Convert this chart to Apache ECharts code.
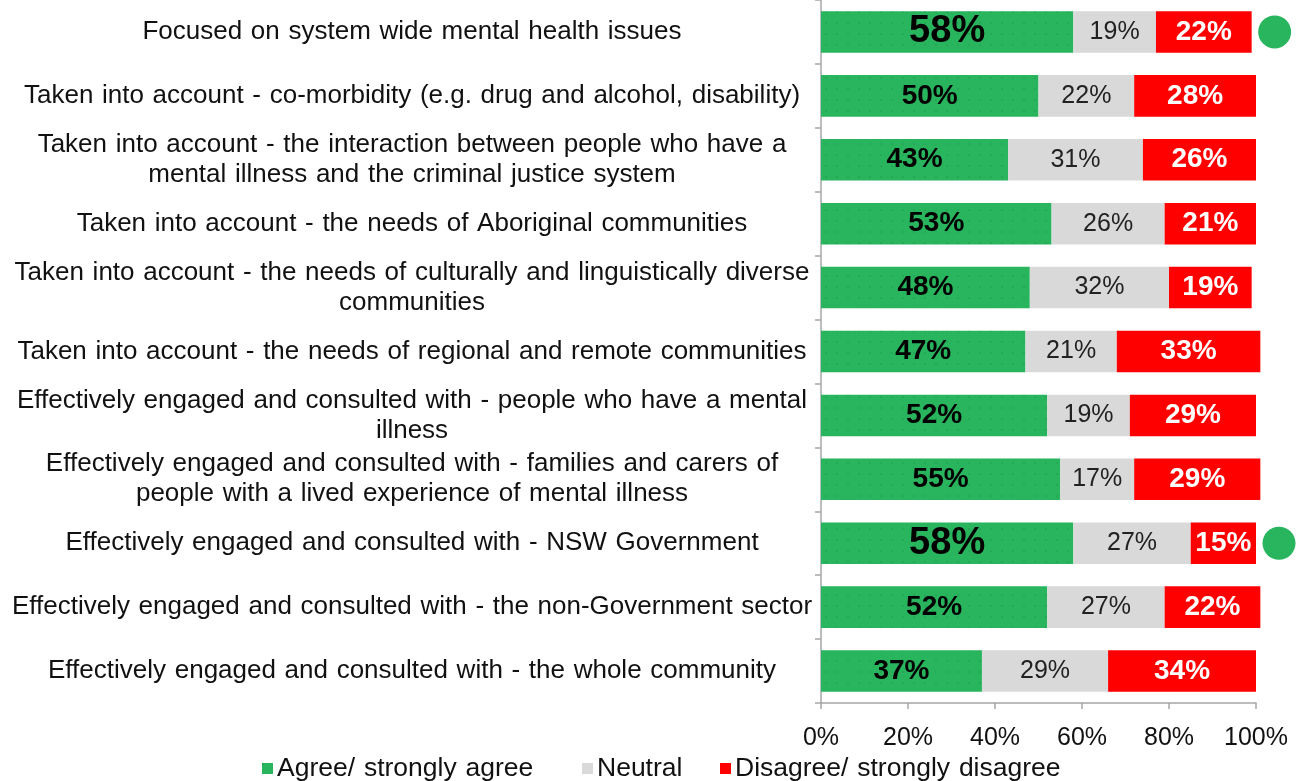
<!DOCTYPE html>
<html>
<head>
<meta charset="utf-8">
<script src="https://cdn.jsdelivr.net/npm/echarts@6/dist/echarts.min.js"></script>
<style>html,body{margin:0;padding:0;background:#fff}#c{width:1304px;height:781px}</style>
</head>
<body>
<div id="c"></div>
<script>
const categories = [
  "Focused on system wide mental health issues",
  "Taken into account - co-morbidity (e.g. drug and alcohol, disability)",
  "Taken into account - the interaction between people who have a\nmental illness and the criminal justice system",
  "Taken into account - the needs of Aboriginal communities",
  "Taken into account - the needs of culturally and linguistically diverse\ncommunities",
  "Taken into account - the needs of regional and remote communities",
  "Effectively engaged and consulted with - people who have a mental\nillness",
  "Effectively engaged and consulted with - families and carers of\npeople with a lived experience of mental illness",
  "Effectively engaged and consulted with - NSW Government",
  "Effectively engaged and consulted with - the non-Government sector",
  "Effectively engaged and consulted with - the whole community"
];
const seriesNames = ["Agree/ strongly agree", "Neutral", "Disagree/ strongly disagree"];
const agree = [58, 50, 43, 53, 48, 47, 52, 55, 58, 52, 37];
const neutral = [19, 22, 31, 26, 32, 21, 19, 17, 27, 27, 29];
const disagree = [22, 28, 26, 21, 19, 33, 29, 29, 15, 22, 34];
const highlighted = [true, false, false, false, false, false, false, false, true, false, false];
const xTicks = [0, 20, 40, 60, 80, 100];

const GREEN = '#29B45E', GREY = '#D9D9D9', RED = '#FF0000';
const FONT = "'Liberation Sans', Arial, sans-serif";
const wide = s => s.replace(/ /g, '\u2002');
const semi = s => s.replace(/ /g, '\u2004');

const agreeData = agree.map((v, i) => highlighted[i]
  ? { value: v, label: { fontSize: 38 } }
  : v);
const totals = agree.map((v, i) => v + neutral[i] + disagree[i]);
const dotData = totals.map((t, i) => highlighted[i] ? [t, categories[i]] : null).filter(d => d);

const legendLefts = [257, 577, 715];
const legends = seriesNames.map((n, i) => ({
  data: [n], left: legendLefts[i], top: 750,
  itemWidth: 11, itemHeight: 11, icon: 'rect',
  formatter: semi,
  textStyle: { fontSize: 26.5, color: '#111', fontFamily: FONT, padding: [0, 0, 0, -1] }
}));

const chart = echarts.init(document.getElementById('c'));
chart.setOption({
  animation: false,
  textStyle: { fontFamily: FONT },
  grid: { left: 821, right: 48, top: -2, height: 705, containLabel: false },
  legend: legends,
  xAxis: {
    type: 'value', min: 0, max: 100, interval: 20,
    axisLine: { show: true, lineStyle: { color: '#A6A6A6', width: 1.5 } },
    axisTick: { show: true, length: 6, lineStyle: { color: '#A6A6A6', width: 1.5 } },
    splitLine: { show: false },
    axisLabel: { formatter: v => xTicks.includes(v) ? v + '%' : '', fontSize: 25, color: '#111', margin: 23 }
  },
  yAxis: {
    type: 'category', inverse: true, data: categories,
    axisLine: { show: true, lineStyle: { color: '#A6A6A6', width: 1.5 } },
    axisTick: { show: true, inside: false, length: 6, lineStyle: { color: '#A6A6A6', width: 1.5 } },
    axisLabel: {
      margin: 9,
      formatter: v => v.split('\n').map(l => '{a|' + semi(l) + '}').join('\n'),
      rich: { a: { width: 800, align: 'center', fontSize: 26, color: '#111', lineHeight: 30, fontFamily: FONT } }
    }
  },
  series: [
    {
      name: seriesNames[0], type: 'bar', stack: 's', barWidth: '65%', clip: false,
      itemStyle: {
        color: GREEN,
        decal: { symbol: 'rect', symbolSize: 0.7, dashArrayX: [2, 9], dashArrayY: [2, 9], color: 'rgba(0,70,25,0.18)', rotation: 0 }
      },
      label: { show: true, position: 'inside', color: '#000', fontWeight: 'bold', fontSize: 28, formatter: '{c}%' },
      data: agreeData
    },
    {
      name: seriesNames[1], type: 'bar', stack: 's', clip: false,
      itemStyle: { color: GREY },
      label: { show: true, position: 'inside', color: '#222', fontSize: 25, formatter: '{c}%' },
      data: neutral
    },
    {
      name: seriesNames[2], type: 'bar', stack: 's', clip: false,
      itemStyle: { color: RED },
      label: { show: true, position: 'inside', color: '#fff', fontWeight: 'bold', fontSize: 28, formatter: '{c}%' },
      data: disagree
    },
    {
      type: 'scatter', symbol: 'circle', symbolSize: 33, symbolOffset: [23, 0], clip: false,
      itemStyle: { color: GREEN, opacity: 1 }, silent: true,
      data: dotData
    }
  ]
});
</script>
</body>
</html>
